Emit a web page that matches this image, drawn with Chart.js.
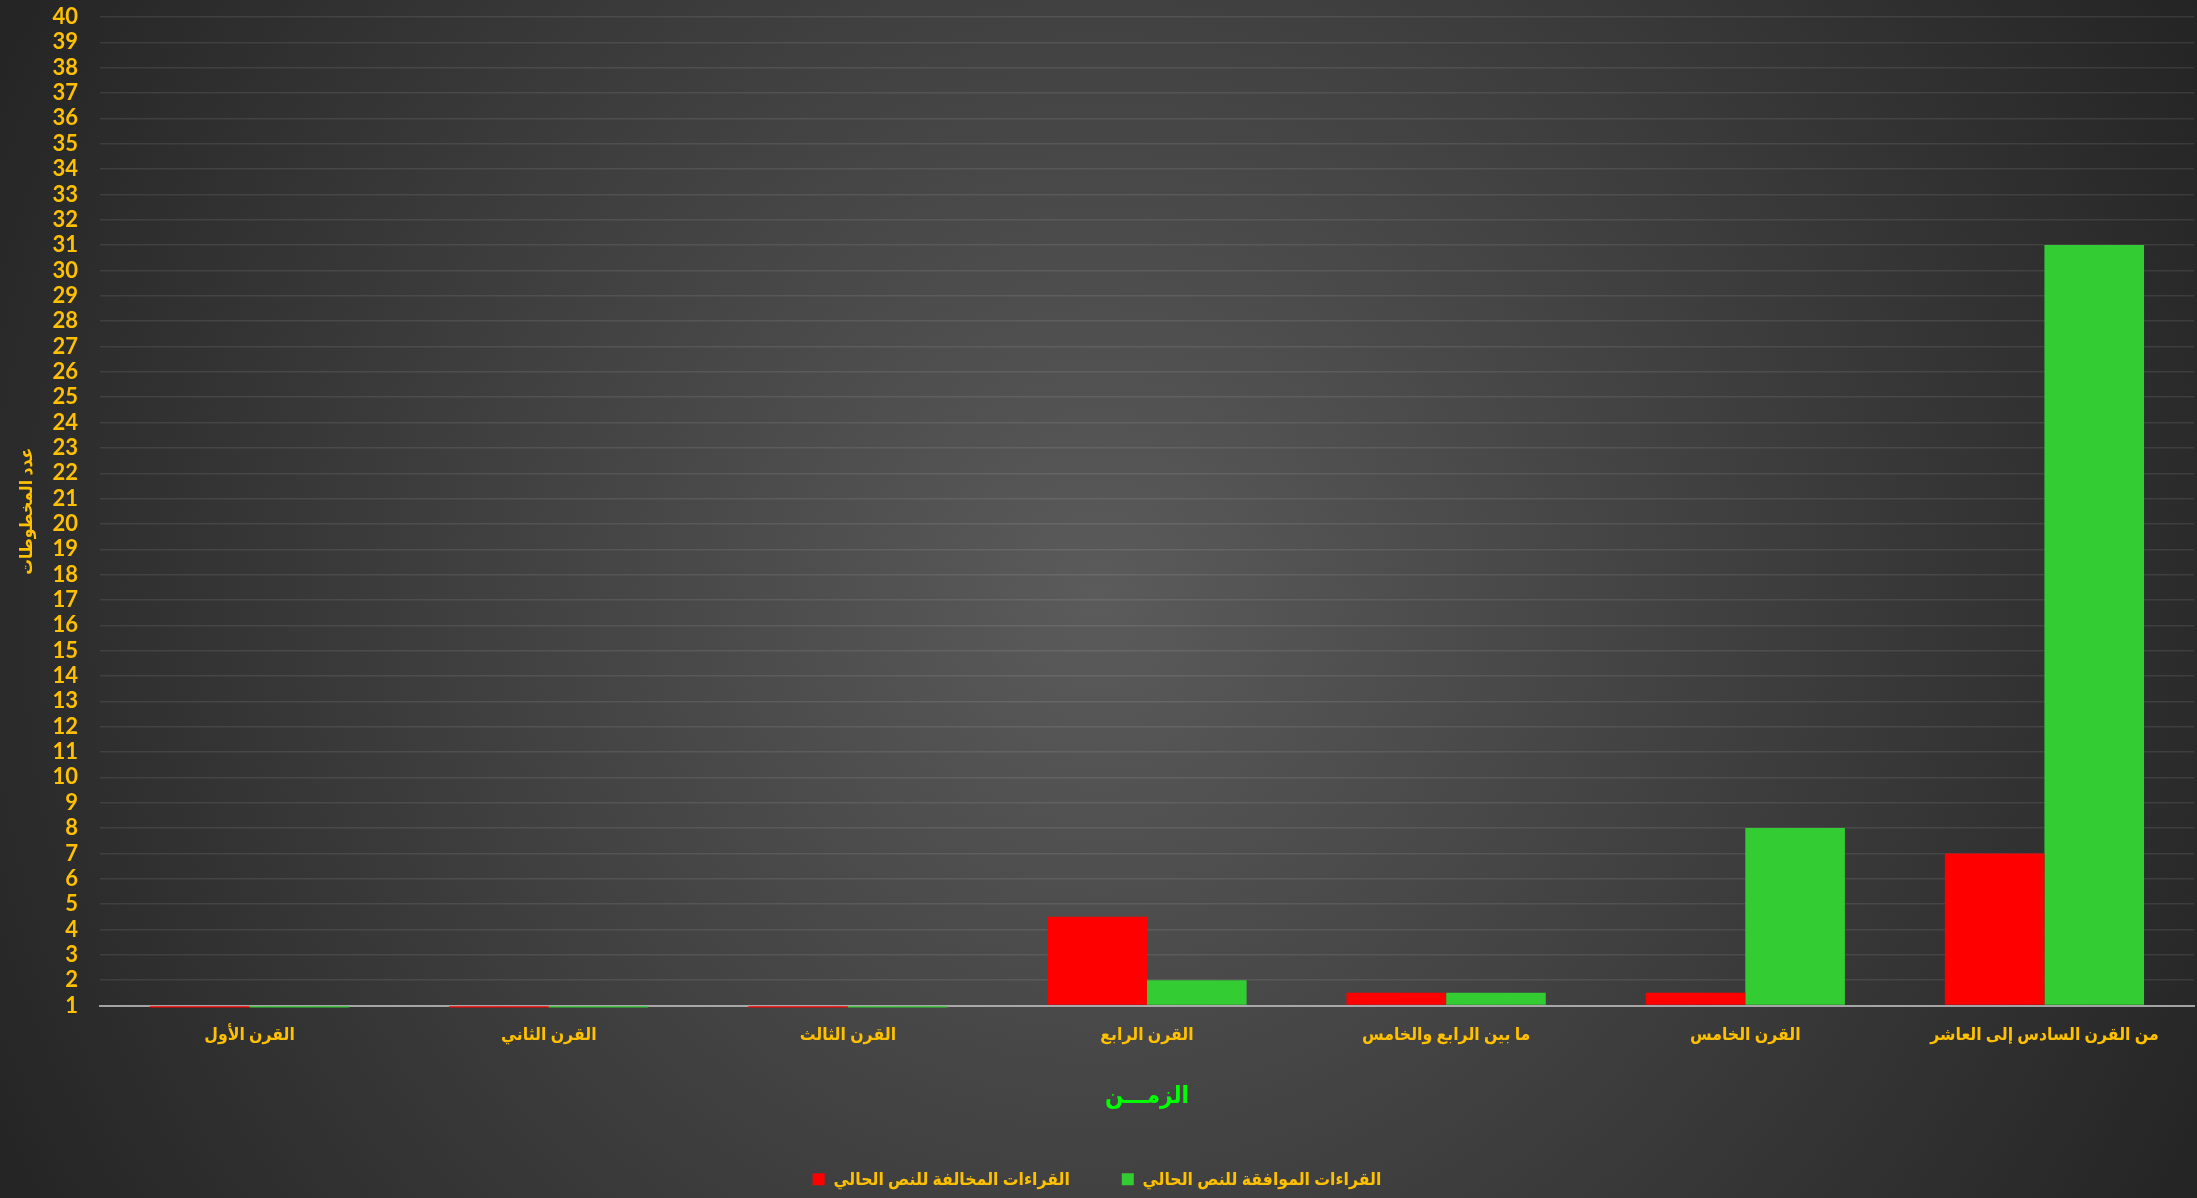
<!DOCTYPE html>
<html lang="ar">
<head>
<meta charset="utf-8">
<title>القراءات حسب القرن</title>
<script src="https://cdn.jsdelivr.net/npm/chart.js@4/dist/chart.umd.min.js"></script>
<style>
  html, body { margin: 0; padding: 0; background: #262626; }
  #wrap { width: 2197px; height: 1198px; position: relative; }
</style>
</head>
<body>
<div id="wrap"><canvas id="grafica"></canvas></div>
<script>
// القرون
const categorias = [
  "القرن الأول",
  "القرن الثاني",
  "القرن الثالث",
  "القرن الرابع",
  "ما بين الرابع والخامس",
  "القرن الخامس",
  "من القرن السادس إلى العاشر"
];

const mخالفة = [0, 0, 0, 4.5, 1.5, 1.5, 7];
const موافقة = [0, 0, 0, 2, 1.5, 8, 31];

const ذهبي = "#FFC000";
const خط = "Lato, 'DejaVu Sans Condensed', 'DejaVu Sans', sans-serif";

// خلفية متدرجة شعاعية
const fondo = {
  id: "fondo",
  beforeDraw(chart) {
    const { ctx, width, height } = chart;
    const cx = width / 2, cy = height / 2;
    const g = ctx.createRadialGradient(cx, cy, 0, cx, cy, Math.hypot(cx, cy));
    g.addColorStop(0, "#5b5b5b");
    g.addColorStop(1, "#242424");
    ctx.save();
    ctx.fillStyle = g;
    ctx.fillRect(0, 0, width, height);
    ctx.restore();
  }
};

// الأعمدة تبدأ من 1 (أصل المحور)، وما دونه يُقص تحت المحور
const recorte = { left: 0, top: 0, right: 0, bottom: 2 };

new Chart(document.getElementById("grafica"), {
  type: "bar",
  data: {
    labels: categorias,
    datasets: [
      {
        label: "القراءات المخالفة للنص الحالي",
        data: mخالفة,
        backgroundColor: "#FF0000",
        base: 1,
        clip: recorte
      },
      {
        label: "القراءات الموافقة للنص الحالي",
        data: موافقة,
        backgroundColor: "#33CC33",
        base: 1,
        clip: recorte
      }
    ]
  },
  options: {
    responsive: true,
    maintainAspectRatio: false,
    animation: false,
    categoryPercentage: 0.666,
    barPercentage: 1.0,
    layout: { padding: { top: 17, right: 3, bottom: 0, left: 0 } },
    plugins: {
      legend: {
        position: "bottom",
        labels: {
          color: ذهبي,
          boxWidth: 12,
          boxHeight: 12,
          padding: 52,
          font: { family: خط, size: 17.5, weight: "bold" }
        }
      },
      tooltip: { enabled: false }
    },
    scales: {
      x: {
        grid: { display: false, drawTicks: false },
        border: { display: true, color: "rgba(190,190,190,0.8)", width: 2 },
        ticks: {
          color: ذهبي,
          padding: 18,
          maxRotation: 0,
          autoSkip: false,
          font: { family: خط, size: 17.5, weight: "bold" }
        },
        title: {
          display: true,
          text: "الزمـــن",
          color: "#00FF00",
          padding: { top: 0, bottom: 9 },
          font: { family: خط, size: 24, weight: "bold" }
        },
        afterFit(s) {
          s.height = 113;
          s.paddingLeft = 0;
          s.paddingRight = 0;
        }
      },
      y: {
        min: 1,
        max: 40,
        grid: { color: "rgba(255,255,255,0.09)", lineWidth: 1.4, drawTicks: false },
        border: { display: false },
        ticks: {
          stepSize: 1,
          autoSkip: false,
          color: ذهبي,
          padding: 22,
          font: { family: خط, size: 22, weight: "bold" }
        },
        title: {
          display: true,
          text: "عدد المخطوطات",
          color: ذهبي,
          padding: { top: 16, bottom: 0 },
          font: { family: خط, size: 17.5, weight: "bold" }
        },
        afterFit(s) {
          s.width = 100;
          s.paddingTop = 0;
          s.paddingBottom = 0;
        }
      }
    }
  },
  plugins: [fondo]
});
</script>
</body>
</html>
